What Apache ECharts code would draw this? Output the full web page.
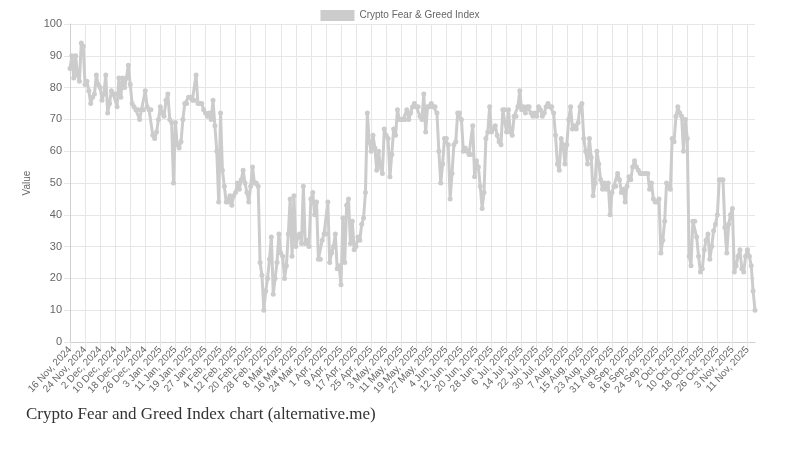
<!DOCTYPE html>
<html>
<head>
<meta charset="utf-8">
<title>Crypto Fear and Greed Index chart</title>
<script src="https://cdn.jsdelivr.net/npm/echarts@6/dist/echarts.min.js"></script>
<style>
    html, body { margin: 0; padding: 0; background: #fff; }
    #main { width: 800px; height: 450px; }
</style>
</head>
<body>
<div id="main"></div>
<script>
// daily index values, month by month
var nov2024 = [86, 90, 83, 90, 84, 82, 94, 93, 81, 82, 79, 75, 77, 78, 84];
var dec2024 = [81, 80, 76, 78, 84, 72, 75, 79, 78, 78, 74, 83, 77, 83, 80, 83, 87, 81, 75, 74, 73, 73, 70, 73, 73, 79, 74, 73, 73, 65, 64];
var jan2025 = [66, 70, 74, 72, 71, 76, 78, 70, 69, 50, 69, 62, 61, 63, 70, 75, 75, 77, 77, 76, 76, 84, 75, 75, 75, 73, 72, 71, 72, 70, 76];
var feb2025 = [68, 60, 44, 72, 54, 49, 44, 44, 46, 43, 46, 47, 50, 48, 51, 54, 50, 47, 44, 49, 55, 50, 50, 49, 25, 21, 10, 16];
var mar2025 = [20, 26, 33, 15, 20, 25, 34, 28, 27, 20, 24, 34, 45, 27, 46, 30, 33, 34, 31, 49, 31, 32, 30, 45, 47, 40, 44, 26, 26, 32, 34];
var apr2025 = [34, 44, 25, 28, 30, 34, 23, 24, 18, 39, 25, 43, 45, 31, 38, 29, 30, 33, 32, 37, 39, 47, 72, 63, 60, 65, 61, 54, 60, 55];
var may2025 = [53, 67, 65, 64, 52, 59, 67, 65, 73, 70, 70, 70, 70, 73, 70, 72, 74, 75, 74, 74, 71, 70, 78, 66, 74, 74, 75, 74, 74, 72, 60];
var jun2025 = [50, 56, 64, 64, 62, 45, 53, 62, 63, 72, 72, 70, 60, 61, 60, 59, 59, 68, 52, 57, 55, 49, 42, 47, 64, 66, 74, 66, 67, 68];
var jul2025 = [65, 63, 62, 73, 73, 66, 73, 66, 65, 71, 71, 74, 79, 73, 74, 72, 74, 74, 72, 71, 72, 71, 74, 73, 71, 72, 74, 75, 74, 74, 72];
var aug2025 = [65, 56, 54, 64, 62, 56, 62, 70, 74, 67, 68, 67, 69, 74, 75, 64, 60, 56, 64, 58, 46, 50, 60, 56, 51, 48, 50, 48, 50, 40, 47];
var sep2025 = [49, 49, 53, 51, 47, 48, 44, 49, 52, 51, 55, 57, 55, 54, 53, 53, 53, 53, 53, 48, 50, 45, 44, 44, 45, 28, 32, 38, 50, 49];
var oct2025 = [48, 64, 63, 71, 74, 72, 71, 60, 70, 64, 27, 24, 38, 38, 33, 27, 22, 23, 29, 32, 34, 26, 30, 35, 37, 40, 51, 51, 51, 36, 28];
var nov2025 = [37, 40, 42, 22, 24, 27, 29, 23, 22, 27, 29, 27, 24, 16, 10];

var monthNames = ['Jan', 'Feb', 'Mar', 'Apr', 'May', 'Jun', 'Jul', 'Aug', 'Sep', 'Oct', 'Nov', 'Dec'];
var startDay = [2024, 10, 16];   // 16 Nov 2024
var yTicks = [0, 100, 10];       // min, max, step
var seriesName = 'Crypto Fear & Greed Index';
var captionText = 'Crypto Fear and Greed Index chart (alternative.me)';


function DrawLine() {
    var lineChart = echarts.init(document.getElementById('main'));

    var values = [].concat(nov2024, dec2024, jan2025, feb2025, mar2025, apr2025,
            may2025, jun2025, jul2025, aug2025, sep2025, oct2025, nov2025);

    // one category per day
    var days = [];
    for (var i = 0; i < values.length; i++) {
        var d = new Date(startDay[0], startDay[1], startDay[2] + i);
        days.push(d.getDate() + ' ' + monthNames[d.getMonth()] + ', ' + d.getFullYear());
    }

    var gridColor = '#e6e6e6';
    var textColor = '#666';
    var font = 'Liberation Sans, Arial, sans-serif';

    option = {
        animation: false,
        textStyle: {fontFamily: font},
        title: {
            text: captionText,
            left: 21,
            top: 401,
            textStyle: {
                fontFamily: 'Liberation Serif, DejaVu Serif, serif',
                fontSize: 17,
                fontWeight: 'normal',
                color: '#333'
            }
        },
        legend: {
            data: [seriesName],
            top: 5,
            left: 'center',
            icon: 'rect',
            itemWidth: 34,
            itemHeight: 11,
            itemGap: 6,
            textStyle: {color: textColor, fontSize: 10, fontFamily: font}
        },
        grid: {
            left: 70,
            right: 45,
            top: 24,
            bottom: 108
        },
        xAxis: {
            type: 'category',
            boundaryGap: false,
            data: days,
            axisLine: {lineStyle: {color: '#d0d0d0'}},
            axisTick: {show: true, interval: 7, length: 6, lineStyle: {color: gridColor}},
            axisLabel: {
                interval: 7,
                rotate: 47,
                fontSize: 10,
                color: textColor,
                margin: 6
            },
            splitLine: {show: true, interval: 7, lineStyle: {color: gridColor}}
        },
        yAxis: {
            type: 'value',
            min: yTicks[0],
            max: yTicks[1],
            interval: yTicks[2],
            name: 'Value',
            nameLocation: 'middle',
            nameGap: 31,
            nameTextStyle: {color: textColor, fontSize: 10},
            axisLine: {show: true, lineStyle: {color: '#d0d0d0'}},
            axisTick: {show: true, length: 6, lineStyle: {color: gridColor}},
            axisLabel: {color: textColor, fontSize: 11, margin: 8},
            splitLine: {lineStyle: {color: gridColor}}
        },
        series: [
            {
                name: seriesName,
                type: 'line',
                data: values,
                symbol: 'circle',
                symbolSize: 5,
                showAllSymbol: true,
                color: '#cccccc',
                lineStyle: {color: '#cccccc', width: 3},
                itemStyle: {color: '#cccccc'}
            }
        ]
    };

    lineChart.setOption(option);
}

DrawLine();
</script>
</body>
</html>
